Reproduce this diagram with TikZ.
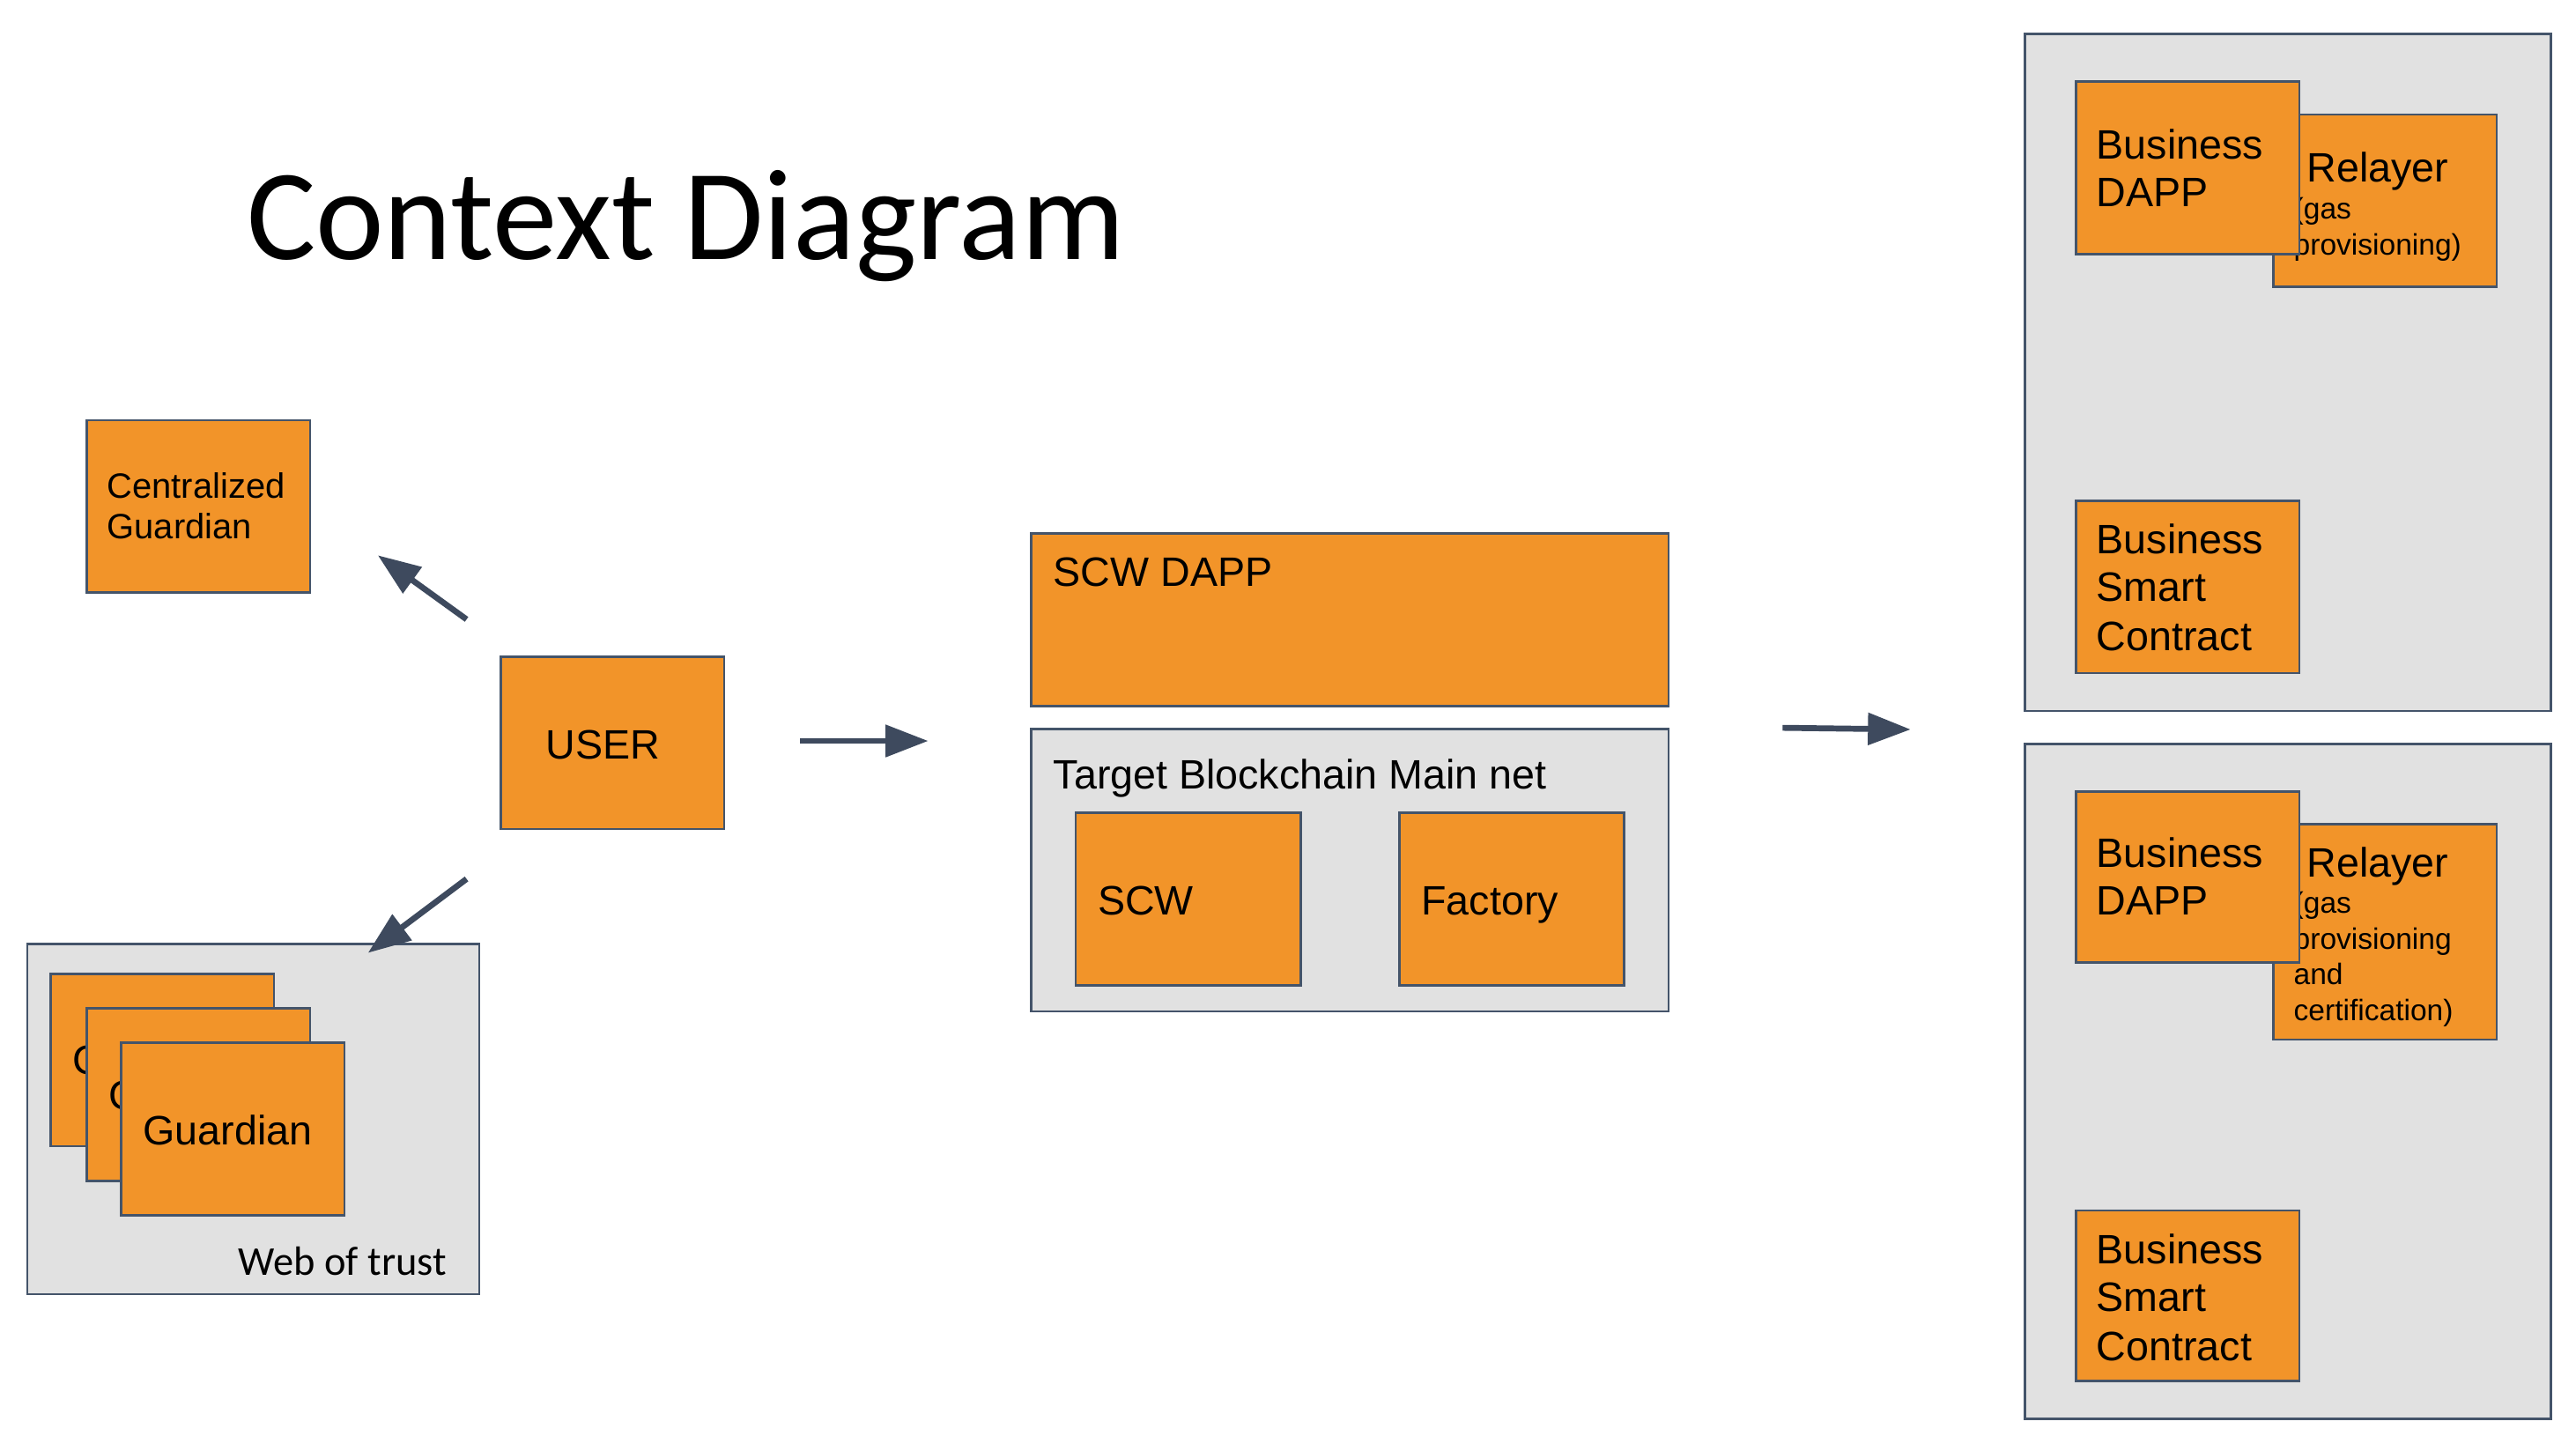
\documentclass[tikz,border=0pt]{standalone}
\usepackage{fontspec}
\setmainfont{Liberation Sans}
\newfontfamily\calib{Carlito}
\usetikzlibrary{arrows.meta}
\definecolor{orangec}{RGB}{242,148,41}
\definecolor{bordc}{RGB}{68,84,106}
\definecolor{grayc}{RGB}{225,225,225}
\definecolor{arrc}{RGB}{62,74,94}
\tikzset{
  obox/.style={draw=bordc, line width=1.4pt, fill=orangec, anchor=north west, inner sep=0pt},
  gbox/.style={draw=bordc, line width=1.4pt, fill=grayc, anchor=north west, inner sep=0pt},
  lbl/.style={anchor=base west, inner sep=0pt, font=\fontsize{25}{29}\selectfont},
  lblm/.style={anchor=base west, inner sep=0pt, font=\fontsize{21.4}{25}\selectfont},
  lbls/.style={anchor=base west, inner sep=0pt, font=\fontsize{18}{21}\selectfont},
  arr/.style={draw=arrc, line width=3.6pt, -{Triangle[length=26pt,width=19pt]}}
}
\begin{document}
\begin{tikzpicture}[x=1pt,y=-1pt]
\useasboundingbox[fill=white] (0,0) rectangle (1568,882.7);
% title
\node[anchor=base west, inner sep=0pt, font=\calib\fontsize{78.8}{90}\selectfont] (title) at (150,158) {Context Diagram};
% centralized guardian
\node[obox, minimum width=136pt, minimum height=105pt] (cg) at (52,255) {};
\node[lblm] (cg1) at (65,303) {Centralized};
\node[lblm] (cg2) at (65,328) {Guardian};
% user
\node[obox, minimum width=136pt, minimum height=105pt] (user) at (304,399) {};
\node[lbl] (usert) at (332,462) {USER};
% web of trust
\node[gbox, minimum width=275pt, minimum height=213pt] (wot) at (16,574) {};
\node[anchor=base west, inner sep=0pt, font=\calib\fontsize{24.9}{29}\selectfont] (wott) at (145,776) {Web of trust};
\node[obox, minimum width=136pt, minimum height=105pt] (g1) at (30,592) {};
\node[lbl] (g1t) at (44,654) {Guardian};
\node[obox, minimum width=136pt, minimum height=105pt] (g2) at (52,613) {};
\node[lbl] (g2t) at (66,675.5) {Guardian};
\node[obox, minimum width=136pt, minimum height=105pt] (g3) at (73,634) {};
\node[lbl] (g3t) at (87,697) {Guardian};
% middle
\node[obox, minimum width=388pt, minimum height=105pt] (scwdapp) at (627,324) {};
\node[lbl] (scwdappt) at (641,357) {SCW DAPP};
\node[gbox, minimum width=388pt, minimum height=172pt] (chain) at (627,443) {};
\node[lbl] (chaint) at (641,480) {Target Blockchain Main net};
\node[obox, minimum width=137pt, minimum height=105pt] (scw) at (654,494) {};
\node[lbl] (scwt) at (668,557) {SCW};
\node[obox, minimum width=137pt, minimum height=105pt] (fact) at (851,494) {};
\node[lbl] (factt) at (865,557) {Factory};
% right upper
\node[gbox, minimum width=320pt, minimum height=412pt] (bizA) at (1232,20) {};
\node[obox, minimum width=136pt, minimum height=105pt] (relA) at (1383,69) {};
\node[lbl] (relA1) at (1404,111) {Relayer};
\node[lbls] (relA2) at (1396,133) {(gas};
\node[lbls] (relA3) at (1396,155) {provisioning)};
\node[obox, minimum width=136pt, minimum height=105pt] (dappA) at (1263,49) {};
\node[lbl] (dappA1) at (1276,97) {Business};
\node[lbl] (dappA2) at (1276,126) {DAPP};
\node[obox, minimum width=136pt, minimum height=105pt] (bscA) at (1263,304) {};
\node[lbl] (bscA1) at (1276,337) {Business};
\node[lbl] (bscA2) at (1276,366) {Smart};
\node[lbl] (bscA3) at (1276,396) {Contract};
% right lower
\node[gbox, minimum width=320pt, minimum height=411pt] (bizB) at (1232,452) {};
\node[obox, minimum width=136pt, minimum height=131pt] (relB) at (1383,501) {};
\node[lbl] (relB1) at (1404,534) {Relayer};
\node[lbls] (relB2) at (1396,556) {(gas};
\node[lbls] (relB3) at (1396,578) {provisioning};
\node[lbls] (relB4) at (1396,599) {and};
\node[lbls] (relB5) at (1396,621) {certification)};
\node[obox, minimum width=136pt, minimum height=104pt] (dappB) at (1263,481) {};
\node[lbl] (dappB1) at (1276,528) {Business};
\node[lbl] (dappB2) at (1276,557) {DAPP};
\node[obox, minimum width=136pt, minimum height=104pt] (bscB) at (1263,736) {};
\node[lbl] (bscB1) at (1276,769) {Business};
\node[lbl] (bscB2) at (1276,798) {Smart};
\node[lbl] (bscB3) at (1276,828) {Contract};
% arrows
\coordinate (a1s) at (284,377);
\coordinate (a1e) at (230,338);
\coordinate (a2s) at (284,535);
\coordinate (a2e) at (224,580);
\coordinate (a3s) at (487,451);
\coordinate (a3e) at (565,451);
\coordinate (a4s) at (1085,443);
\coordinate (a4e) at (1163,444);
\draw[arr] (a1s) -- (a1e);
\draw[arr] (a2s) -- (a2e);
\draw[arr] (a3s) -- (a3e);
\draw[arr] (a4s) -- (a4e);
\end{tikzpicture}
\end{document}
